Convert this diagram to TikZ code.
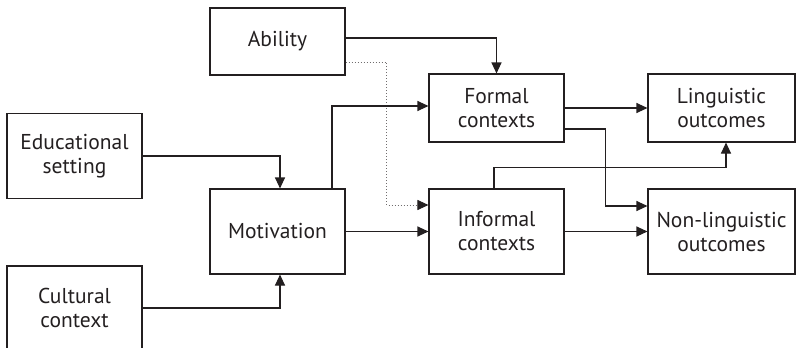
\documentclass[tikz,border=0pt]{standalone}
\usepackage{fontspec}
\setmainfont{PT Sans}
\usetikzlibrary{arrows.meta}
\definecolor{ink}{HTML}{231F20}
\tikzset{
  box/.style={draw=ink, line width=1.1pt, rectangle, align=center, text=ink,
    font=\fontsize{21.5}{24}\selectfont, inner sep=0pt},
  conn/.style={draw=ink, line width=1.1pt, -{Triangle[length=11pt,width=10pt]}},
  dotconn/.style={draw=ink!65, line width=1pt, dotted, -{Triangle[length=11pt,width=10pt,color=ink,fill=ink]}}
}
\begin{document}
\begin{tikzpicture}[x=1pt,y=-1pt]
\useasboundingbox (0,0) rectangle (796,348);
\clip (0,0) rectangle (796,348);
\node[box, minimum width=135pt, minimum height=67pt] (ab) at (277.5,41.5) {Ability};
\node[box, minimum width=135pt, minimum height=85pt] (ed) at (74.5,156) {Educational\\setting};
\node[box, minimum width=135pt, minimum height=85pt] (mo) at (277.5,231.5) {Motivation};
\node[box, minimum width=135pt, minimum height=84pt] (cc) at (74.5,308) {Cultural\\context};
\node[box, minimum width=135pt, minimum height=68pt] (fc) at (496.5,108) {Formal\\contexts};
\node[box, minimum width=147pt, minimum height=68pt] (lo) at (721.5,108) {Linguistic\\outcomes};
\node[box, minimum width=135pt, minimum height=85pt] (ic) at (496.5,231.5) {Informal\\contexts};
\node[box, minimum width=147pt, minimum height=85pt] (nl) at (721.5,231.5) {Non-linguistic\\outcomes};

\draw[conn] ([yshift=3.5pt]ab.east) -| (fc.north);
\draw[dotconn] ([yshift=-20.5pt]ab.east) -- ++(41,0) |- ([yshift=26.5pt]ic.west);
\draw[conn] (ed.east) -| ([xshift=2.5pt]mo.north);
\draw[conn] (cc.east) -| ([xshift=2.5pt]mo.south);
\draw[conn] ([xshift=54.5pt]mo.north) |- ([yshift=2pt]fc.west);
\draw[conn] (mo.east) -- (ic.west);
\draw[conn] (fc.east) -- (lo.west);
\draw[conn] ([yshift=-21pt]fc.east) -- ++(41,0) |- ([yshift=25.5pt]nl.west);
\draw[conn] ([xshift=-2.5pt]ic.north) -- ++(0,-21) -| ([xshift=4.5pt]lo.south);
\draw[conn] (ic.east) -- (nl.west);
\end{tikzpicture}
\end{document}
